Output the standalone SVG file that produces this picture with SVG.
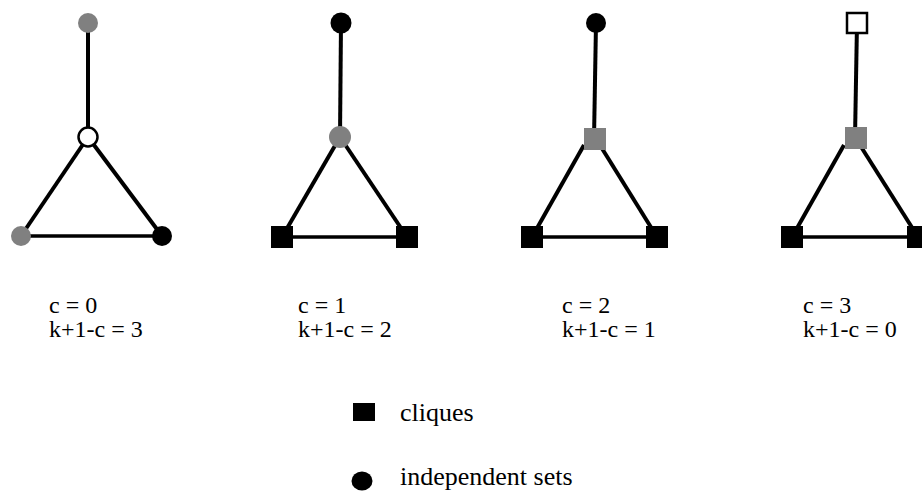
<svg xmlns="http://www.w3.org/2000/svg" width="922" height="492" viewBox="0 0 922 492">
<style>
.e{stroke:#000;stroke-width:4;stroke-linecap:butt;fill:none}
.eh{stroke:#000;stroke-width:3.5;fill:none}
.blk{fill:#000}
.gry{fill:#808080}
.wht{fill:#fff;stroke:#000;stroke-width:2.5}
.t{font-size:24px;fill:#000}
.l{font-size:26px;fill:#000}
</style>
<rect width="922" height="492" fill="#fff"/>
<g id="connectors">
<line class="e" x1="88" y1="23" x2="88" y2="137"/>
<line class="e" x1="88" y1="137" x2="21" y2="236"/>
<line class="e" x1="88" y1="137" x2="162" y2="236"/>
<line class="eh" x1="21" y1="236" x2="162" y2="236"/>
<line class="e" x1="341" y1="23" x2="340" y2="137"/>
<line class="e" x1="340" y1="137" x2="282" y2="237"/>
<line class="e" x1="340" y1="137" x2="407" y2="237"/>
<line class="eh" x1="282" y1="237" x2="407" y2="237"/>
<line class="e" x1="596" y1="23" x2="594" y2="139"/>
<line class="e" x1="584" y1="145" x2="532" y2="237"/>
<line class="e" x1="598" y1="142" x2="657" y2="237"/>
<line class="eh" x1="532" y1="237" x2="657" y2="237"/>
<line class="e" x1="857" y1="23" x2="855" y2="138"/>
<line class="e" x1="844" y1="145" x2="792" y2="237"/>
<line class="e" x1="858" y1="142" x2="918" y2="237"/>
<line class="eh" x1="792" y1="237" x2="918" y2="237"/>
</g>
<g id="g1-top"><circle class="gry" cx="88" cy="23" r="10"/></g>
<g id="g1-center"><circle class="wht" cx="88" cy="137" r="9.5"/></g>
<g id="g1-bl"><circle class="gry" cx="21" cy="236" r="10"/></g>
<g id="g1-br"><circle class="blk" cx="162" cy="236" r="10"/></g>
<g id="g2-top"><circle class="blk" cx="341" cy="23" r="10.5"/></g>
<g id="g2-center"><circle class="gry" cx="340" cy="137" r="11"/></g>
<g id="g2-bl"><rect class="blk" x="271" y="226" width="22" height="22"/></g>
<g id="g2-br"><rect class="blk" x="396" y="226" width="22" height="22"/></g>
<g id="g3-top"><circle class="blk" cx="596" cy="23" r="10"/></g>
<g id="g3-center"><rect class="gry" x="584" y="128" width="22" height="22"/></g>
<g id="g3-bl"><rect class="blk" x="521" y="226" width="22" height="22"/></g>
<g id="g3-br"><rect class="blk" x="646" y="226" width="22" height="22"/></g>
<g id="g4-top"><rect class="wht" x="847" y="13" width="20" height="20"/></g>
<g id="g4-center"><rect class="gry" x="845" y="127" width="22" height="22"/></g>
<g id="g4-bl"><rect class="blk" x="781" y="226" width="22" height="22"/></g>
<g id="g4-br"><rect class="blk" x="907" y="226" width="22" height="22"/></g>
<g id="labels">
<text class="t" font-family="Liberation Serif" x="49" y="313">c = 0<tspan x="49" y="337">k+1-c = 3</tspan></text>
<text class="t" font-family="Liberation Serif" x="298" y="313">c = 1<tspan x="298" y="337">k+1-c = 2</tspan></text>
<text class="t" font-family="Liberation Serif" x="562" y="313">c = 2<tspan x="562" y="337">k+1-c = 1</tspan></text>
<text class="t" font-family="Liberation Serif" x="803" y="313">c = 3<tspan x="803" y="337">k+1-c = 0</tspan></text>
</g>
<g id="legend-cliques">
<rect class="blk" x="353" y="403" width="22" height="18"/>
<text class="l" font-family="Liberation Serif" x="400" y="421">cliques</text>
</g>
<g id="legend-independent">
<ellipse class="blk" cx="362" cy="481" rx="10.5" ry="9.5"/>
<text class="l" font-family="Liberation Serif" x="400" y="485">independent sets</text>
</g>
</svg>
